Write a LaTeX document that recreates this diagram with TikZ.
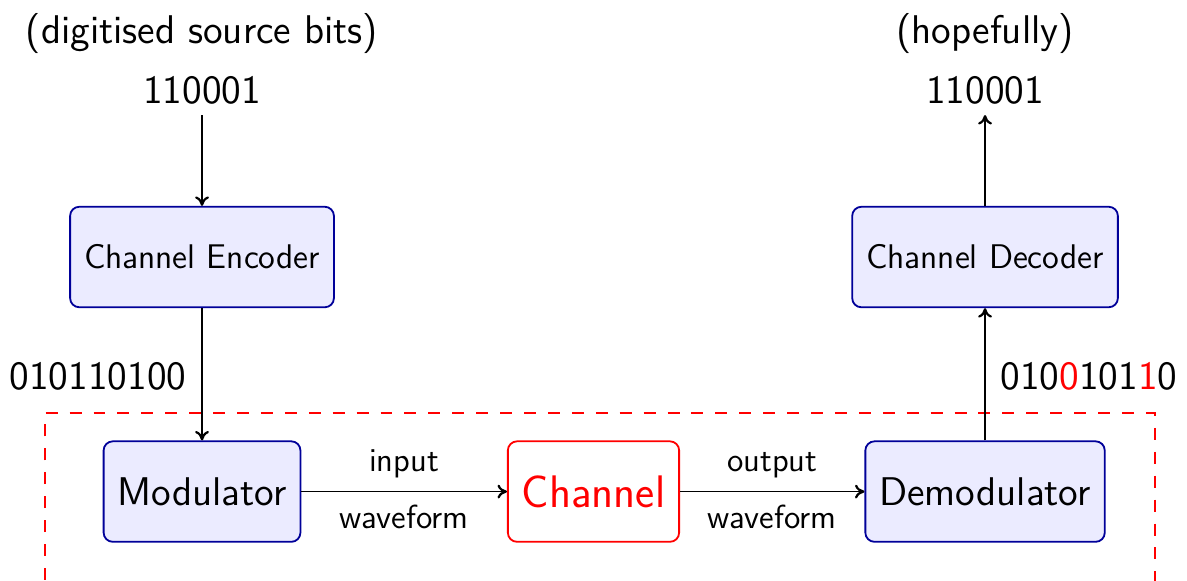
\documentclass[tikz,border=0pt,11pt]{standalone}
\usetikzlibrary{arrows.meta}
\renewcommand{\familydefault}{\sfdefault}
\tikzset{
	block/.style={draw=blue!60!black, fill=blue!8, rounded corners=.3em, minimum height=1.27cm, inner xsep=5pt, font=\fontsize{12.3}{14}\selectfont},
	channel/.style={block, draw=red, fill=white, text=red},
	bits/.style={font=\Large},
	wave/.style={font=\fontsize{12}{14}\selectfont},
	>={To[length=3.4pt, width=5pt, line width=0.8pt]},
}
\begin{document}
		\begin{tikzpicture}[line width=0.65pt]
			\useasboundingbox (0,0) rectangle (15,7.33);
			\node (srcbits) [bits] at (2.553,6.192) {110001};
			\node [bits] at (2.553,6.912) {(digitised source bits)};
			\node (outbits) [bits] at (12.448,6.192) {110001};
			\node [bits] at (12.448,6.912) {(hopefully)};
			\node (encoder) [block] at (2.553,4.082) {Channel Encoder};
			\node (decoder) [block] at (12.448,4.082) {Channel Decoder};
			\node (modulator) [block, font=\Large] at (2.553,1.118) {Modulator};
			\node (chan) [channel, font=\fontsize{16.4}{19}\selectfont] at (7.5,1.118) {Channel};
			\node (demodulator) [block, font=\Large] at (12.448,1.118) {Demodulator};
			\node [bits] at (1.238,2.578) {010110100};
			\node [bits] at (13.762,2.578) {010\textcolor{red}{0}101\textcolor{red}{1}0};
			% the part that travels over the physical channel
			\draw [red, dash pattern=on 4.3pt off 4.3pt] (0.569,-0.3) -- (0.569,2.110) -- (14.596,2.110) -- (14.596,-0.3);
			\draw [->] (srcbits) -- (encoder);
			\draw [->] (encoder) -- (modulator);
			\draw [->] (modulator) -- node [above=1pt, wave] {input} node [below=1pt, wave] {waveform} (chan);
			\draw [->] (chan) -- node [above=1pt, wave] {output} node [below=1pt, wave] {waveform} (demodulator);
			\draw [->] (demodulator) -- (decoder);
			\draw [->] (decoder) -- (outbits);
		\end{tikzpicture}
\end{document}
